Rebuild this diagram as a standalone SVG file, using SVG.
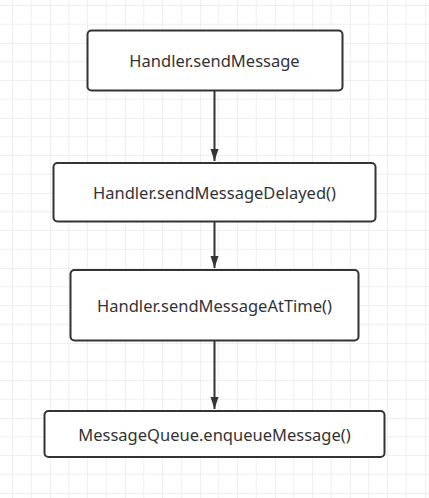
<svg xmlns="http://www.w3.org/2000/svg" width="429" height="498" viewBox="0 0 429 498">
  <defs>
    <pattern id="grid" x="50" y="43" width="75" height="75" patternUnits="userSpaceOnUse">
      <path d="M18.75 0V75M37.5 0V75M56.25 0V75M0 18.75H75M0 37.5H75M0 56.25H75" stroke="#efefef" stroke-width="1" fill="none"/>
      <path d="M0 0V75M0 0H75" stroke="#e2e2e2" stroke-width="1" fill="none"/>
    </pattern>
    <marker id="arrow" markerWidth="12" markerHeight="18" refX="18" refY="6" orient="auto" markerUnits="userSpaceOnUse" viewBox="0 0 18 12">
      <path d="M0 0L18 6L0 12Z" fill="#333"/>
    </marker>
    <style>
      .box { fill: #ffffff; stroke: #333333; stroke-width: 2; }
      .label { font-family: "Noto Sans", "Open Sans", sans-serif; font-size: 16.5px; fill: #333333; text-anchor: middle; dominant-baseline: central; }
      .edge { stroke: #333333; stroke-width: 2; fill: none; }
    </style>
  </defs>
  <rect width="429" height="498" fill="#ffffff"/>
  <rect width="429" height="498" fill="url(#grid)"/>
  <g id="connectors">
    <path class="edge" d="M214.5 91V161" marker-end="url(#arrow)"/>
    <path class="edge" d="M214.5 222V268" marker-end="url(#arrow)"/>
    <path class="edge" d="M214.5 341V409" marker-end="url(#arrow)"/>
  </g>
  <g id="node1">
    <rect class="box" x="87.5" y="30.5" width="255" height="60" rx="4"/>
    <text class="label" x="214.5" y="60.5">Handler.sendMessage</text>
  </g>
  <g id="node2">
    <rect class="box" x="53.5" y="163" width="322" height="58.5" rx="4"/>
    <text class="label" x="214.5" y="192.5">Handler.sendMessageDelayed()</text>
  </g>
  <g id="node3">
    <rect class="box" x="70.5" y="270" width="288" height="70.5" rx="4"/>
    <text class="label" x="214.5" y="305.5">Handler.sendMessageAtTime()</text>
  </g>
  <g id="node4">
    <rect class="box" x="44.5" y="411" width="340" height="46" rx="4"/>
    <text class="label" x="214.5" y="434">MessageQueue.enqueueMessage()</text>
  </g>
</svg>
